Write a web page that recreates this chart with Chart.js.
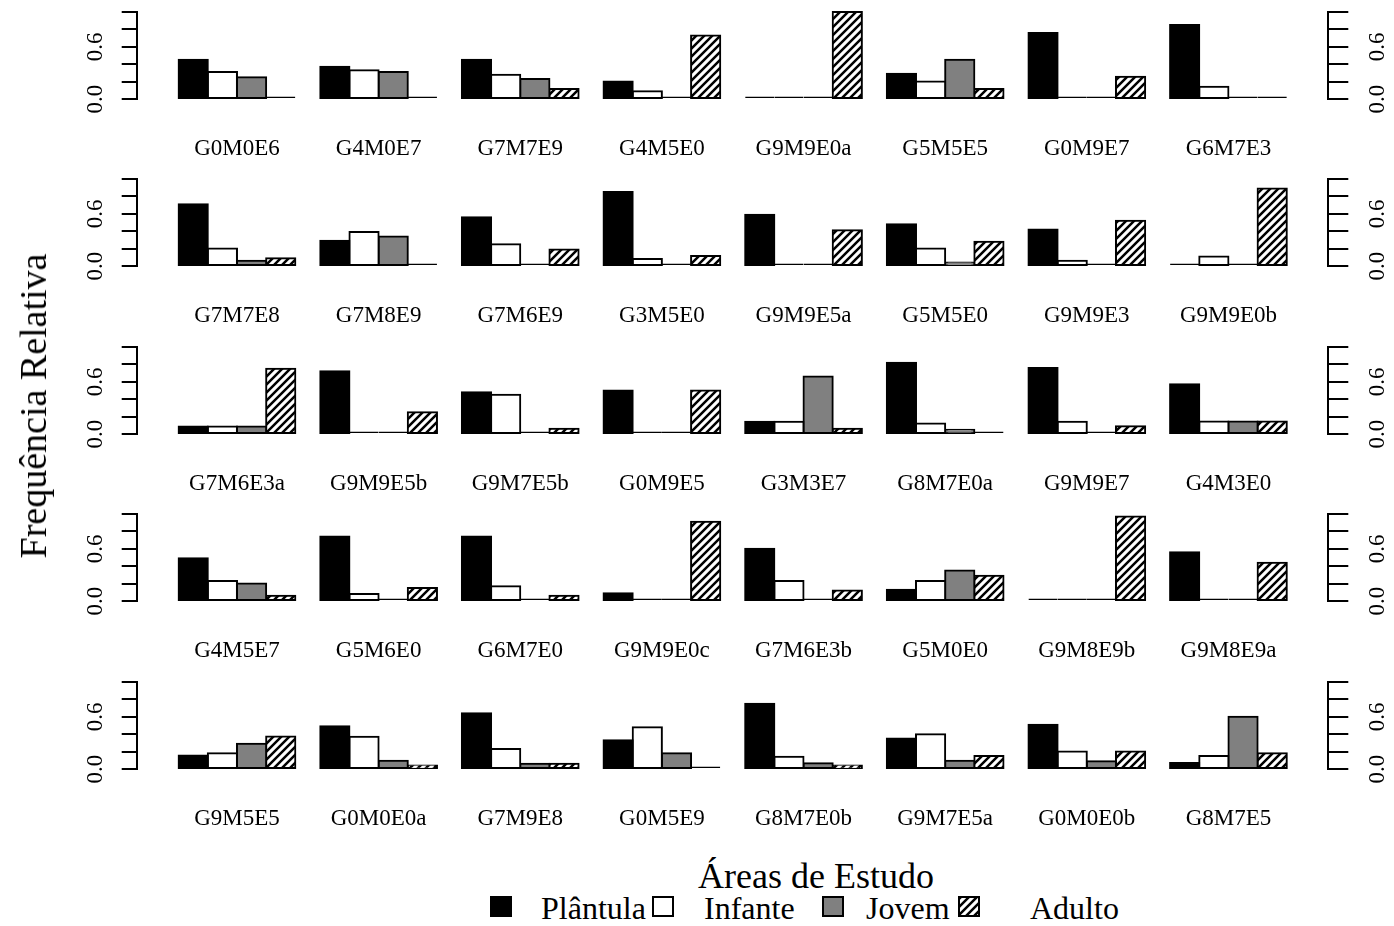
<!DOCTYPE html>
<html lang="pt">
<head>
<meta charset="utf-8">
<title>Frequência Relativa por Área de Estudo</title>
<script src="https://cdn.jsdelivr.net/npm/chart.js@4.4.1/dist/chart.umd.min.js"></script>
<style>
  html, body { margin: 0; padding: 0; background: #fff; }
  #page { position: relative; width: 1394px; height: 926px; overflow: hidden;
          font-family: "Liberation Serif", "Times New Roman", serif; color: #000; }
  #page canvas { position: absolute; left: 0; }
  .lbl { position: absolute; white-space: nowrap; line-height: 1; }
  #ytitle { left: 33px; top: 406px; font-size: 38px; transform: translate(-50%, -50%) rotate(-90deg); }
  #xtitle { left: 816px; top: 858px; font-size: 36px; transform: translateX(-50%); }
  .key { position: absolute; top: 896px; width: 18px; height: 17px; border: 2px solid #000; }
  .keytext { top: 892px; font-size: 32px; }
</style>
</head>
<body>
<div id="page">
  <canvas id="row0" width="1394" height="155"></canvas>
  <canvas id="row1" width="1394" height="155"></canvas>
  <canvas id="row2" width="1394" height="155"></canvas>
  <canvas id="row3" width="1394" height="155"></canvas>
  <canvas id="row4" width="1394" height="155"></canvas>
  <div class="lbl" id="ytitle">Frequência Relativa</div>
  <div class="lbl" id="xtitle">Áreas de Estudo</div>
</div>
<script>
// study sites, 8 per row
const sites = [
  'G0M0E6', 'G4M0E7', 'G7M7E9', 'G4M5E0', 'G9M9E0a', 'G5M5E5', 'G0M9E7', 'G6M7E3',
  'G7M7E8', 'G7M8E9', 'G7M6E9', 'G3M5E0', 'G9M9E5a', 'G5M5E0', 'G9M9E3', 'G9M9E0b',
  'G7M6E3a', 'G9M9E5b', 'G9M7E5b', 'G0M9E5', 'G3M3E7', 'G8M7E0a', 'G9M9E7', 'G4M3E0',
  'G4M5E7', 'G5M6E0', 'G6M7E0', 'G9M9E0c', 'G7M6E3b', 'G5M0E0', 'G9M8E9b', 'G9M8E9a',
  'G9M5E5', 'G0M0E0a', 'G7M9E8', 'G0M5E9', 'G8M7E0b', 'G9M7E5a', 'G0M0E0b', 'G8M7E5'
];

// relative frequency of each life stage per site
const plantula = [
  0.45, 0.37, 0.45, 0.20, 0, 0.29, 0.76, 0.85,
  0.71, 0.29, 0.56, 0.85, 0.59, 0.48, 0.42, 0,
  0.085, 0.72, 0.48, 0.50, 0.14, 0.82, 0.76, 0.571,
  0.49, 0.74, 0.74, 0.09, 0.60, 0.13, 0, 0.56,
  0.155, 0.49, 0.64, 0.33, 0.75, 0.35, 0.51, 0.07
];
const infante = [
  0.31, 0.33, 0.28, 0.09, 0, 0.20, 0, 0.14,
  0.20, 0.39, 0.25, 0.08, 0, 0.20, 0.06, 0.11,
  0.085, 0, 0.45, 0, 0.14, 0.12, 0.14, 0.143,
  0.23, 0.08, 0.17, 0, 0.23, 0.23, 0.03, 0,
  0.18, 0.37, 0.23, 0.48, 0.14, 0.40, 0.20, 0.15
];
const jovem = [
  0.25, 0.31, 0.23, 0.03, 0, 0.45, 0, 0.02,
  0.06, 0.34, 0, 0, 0, 0.04, 0, 0,
  0.085, 0.03, 0.03, 0, 0.66, 0.05, 0, 0.143,
  0.20, 0.03, 0.03, 0, 0.03, 0.35, 0, 0,
  0.29, 0.095, 0.06, 0.18, 0.065, 0.095, 0.09, 0.60
];
const adulto = [
  0.02, 0.02, 0.115, 0.73, 1.0, 0.115, 0.255, 0.02,
  0.09, 0.02, 0.19, 0.115, 0.41, 0.28, 0.52, 0.89,
  0.75, 0.25, 0.06, 0.50, 0.06, 0.01, 0.09, 0.143,
  0.06, 0.15, 0.06, 0.91, 0.12, 0.29, 0.97, 0.44,
  0.375, 0.04, 0.06, 0.01, 0.04, 0.15, 0.20, 0.18
];

const stages = ['Plântula', 'Infante', 'Jovem', 'Adulto'];
const yTicksShown = [0, 0.6];

const series = [plantula, infante, jovem, adulto];
const perRow = 8;
const baselines = [99, 266, 434, 601, 769];

Chart.defaults.font.family = '"Liberation Serif", "Times New Roman", serif';
Chart.defaults.color = '#000';

// diagonal hatching for the adult bars
const tile = document.createElement('canvas');
tile.width = tile.height = 8;
(function () {
  const g = tile.getContext('2d');
  const s = tile.width;
  g.fillStyle = '#fff';
  g.fillRect(0, 0, s, s);
  g.strokeStyle = '#000';
  g.lineWidth = 2.5;
  g.beginPath();
  g.moveTo(0, s); g.lineTo(s, 0);
  g.moveTo(-s / 2, s / 2); g.lineTo(s / 2, -s / 2);
  g.moveTo(s / 2, s * 1.5); g.lineTo(s * 1.5, s / 2);
  g.stroke();
})();
const hatch = tile.getContext('2d').createPattern(tile, 'repeat');
const fills = ['#000000', '#ffffff', '#808080', hatch];

function yLabel(v) {
  return yTicksShown.some(t => Math.abs(t - v) < 1e-9) ? v.toFixed(1) : '';
}

function yAxis(position, tickLength, pad, width) {
  return {
    position: position,
    min: 0,
    max: 1,
    grid: { drawOnChartArea: false, drawTicks: true, tickLength: tickLength, color: '#000', lineWidth: 2 },
    border: { display: true, color: '#000', width: 2 },
    ticks: {
      stepSize: 0.2, autoSkip: false, minRotation: 90, maxRotation: 90, crossAlign: 'center',
      padding: pad, font: { size: 23 }, callback: yLabel
    },
    afterFit: s => { s.width = width; s.paddingTop = 0; s.paddingBottom = 0; }
  };
}

for (let r = 0; r < baselines.length; r++) {
  const from = r * perRow;
  const names = sites.slice(from, from + perRow);
  const canvas = document.getElementById('row' + r);
  canvas.style.top = (baselines[r] - 95) + 'px';

  new Chart(canvas, {
    type: 'bar',
    data: {
      datasets: stages.map((name, k) => ({
        label: name,
        data: names.map((_, j) => ({ x: j + 1, y: series[k][from + j] })),
        backgroundColor: fills[k],
        borderColor: '#000',
        borderWidth: 2,
        borderSkipped: false,
        inflateAmount: c => (c.raw && c.raw.y < 0.04 ? 0 : 1),
        minBarLength: 2.5,
        categoryPercentage: 0.824,
        barPercentage: 1,
        clip: false
      }))
    },
    options: {
      responsive: false,
      animation: false,
      events: [],
      layout: { autoPadding: false, padding: { top: 8, left: 36.7, right: 5.7, bottom: 0 } },
      plugins: { legend: { display: false }, tooltip: { enabled: false } },
      scales: {
        x: {
          type: 'linear',
          min: 0.292,
          max: 8.705,
          bounds: 'data',
          offset: false,
          grid: { display: false, drawTicks: false },
          border: { display: false },
          afterBuildTicks: s => { s.ticks = names.map((_, j) => ({ value: j + 1 })); },
          ticks: {
            autoSkip: false, maxRotation: 0, padding: 36, font: { size: 23 },
            callback: v => names[Math.round(v) - 1]
          },
          afterFit: s => { s.height = 60; s.paddingLeft = 0; s.paddingRight = 0; }
        },
        y: yAxis('left', 15, 11.3, 100),
        y2: yAxis('right', 20, 15.3, 60)
      }
    }
  });
}

// legend row under the axis title
const page = document.getElementById('page');
const keyX = [490, 652, 822, 958];
const textX = [541, 704, 866, 1030];
stages.forEach((name, k) => {
  const box = document.createElement('div');
  box.className = 'key';
  box.style.left = keyX[k] + 'px';
  if (k === 3) {
    box.style.backgroundImage = 'url(' + tile.toDataURL() + ')';
  } else {
    box.style.background = fills[k];
  }
  page.appendChild(box);
  const txt = document.createElement('div');
  txt.className = 'lbl keytext';
  txt.style.left = textX[k] + 'px';
  txt.textContent = name;
  page.appendChild(txt);
});
</script>
</body>
</html>
